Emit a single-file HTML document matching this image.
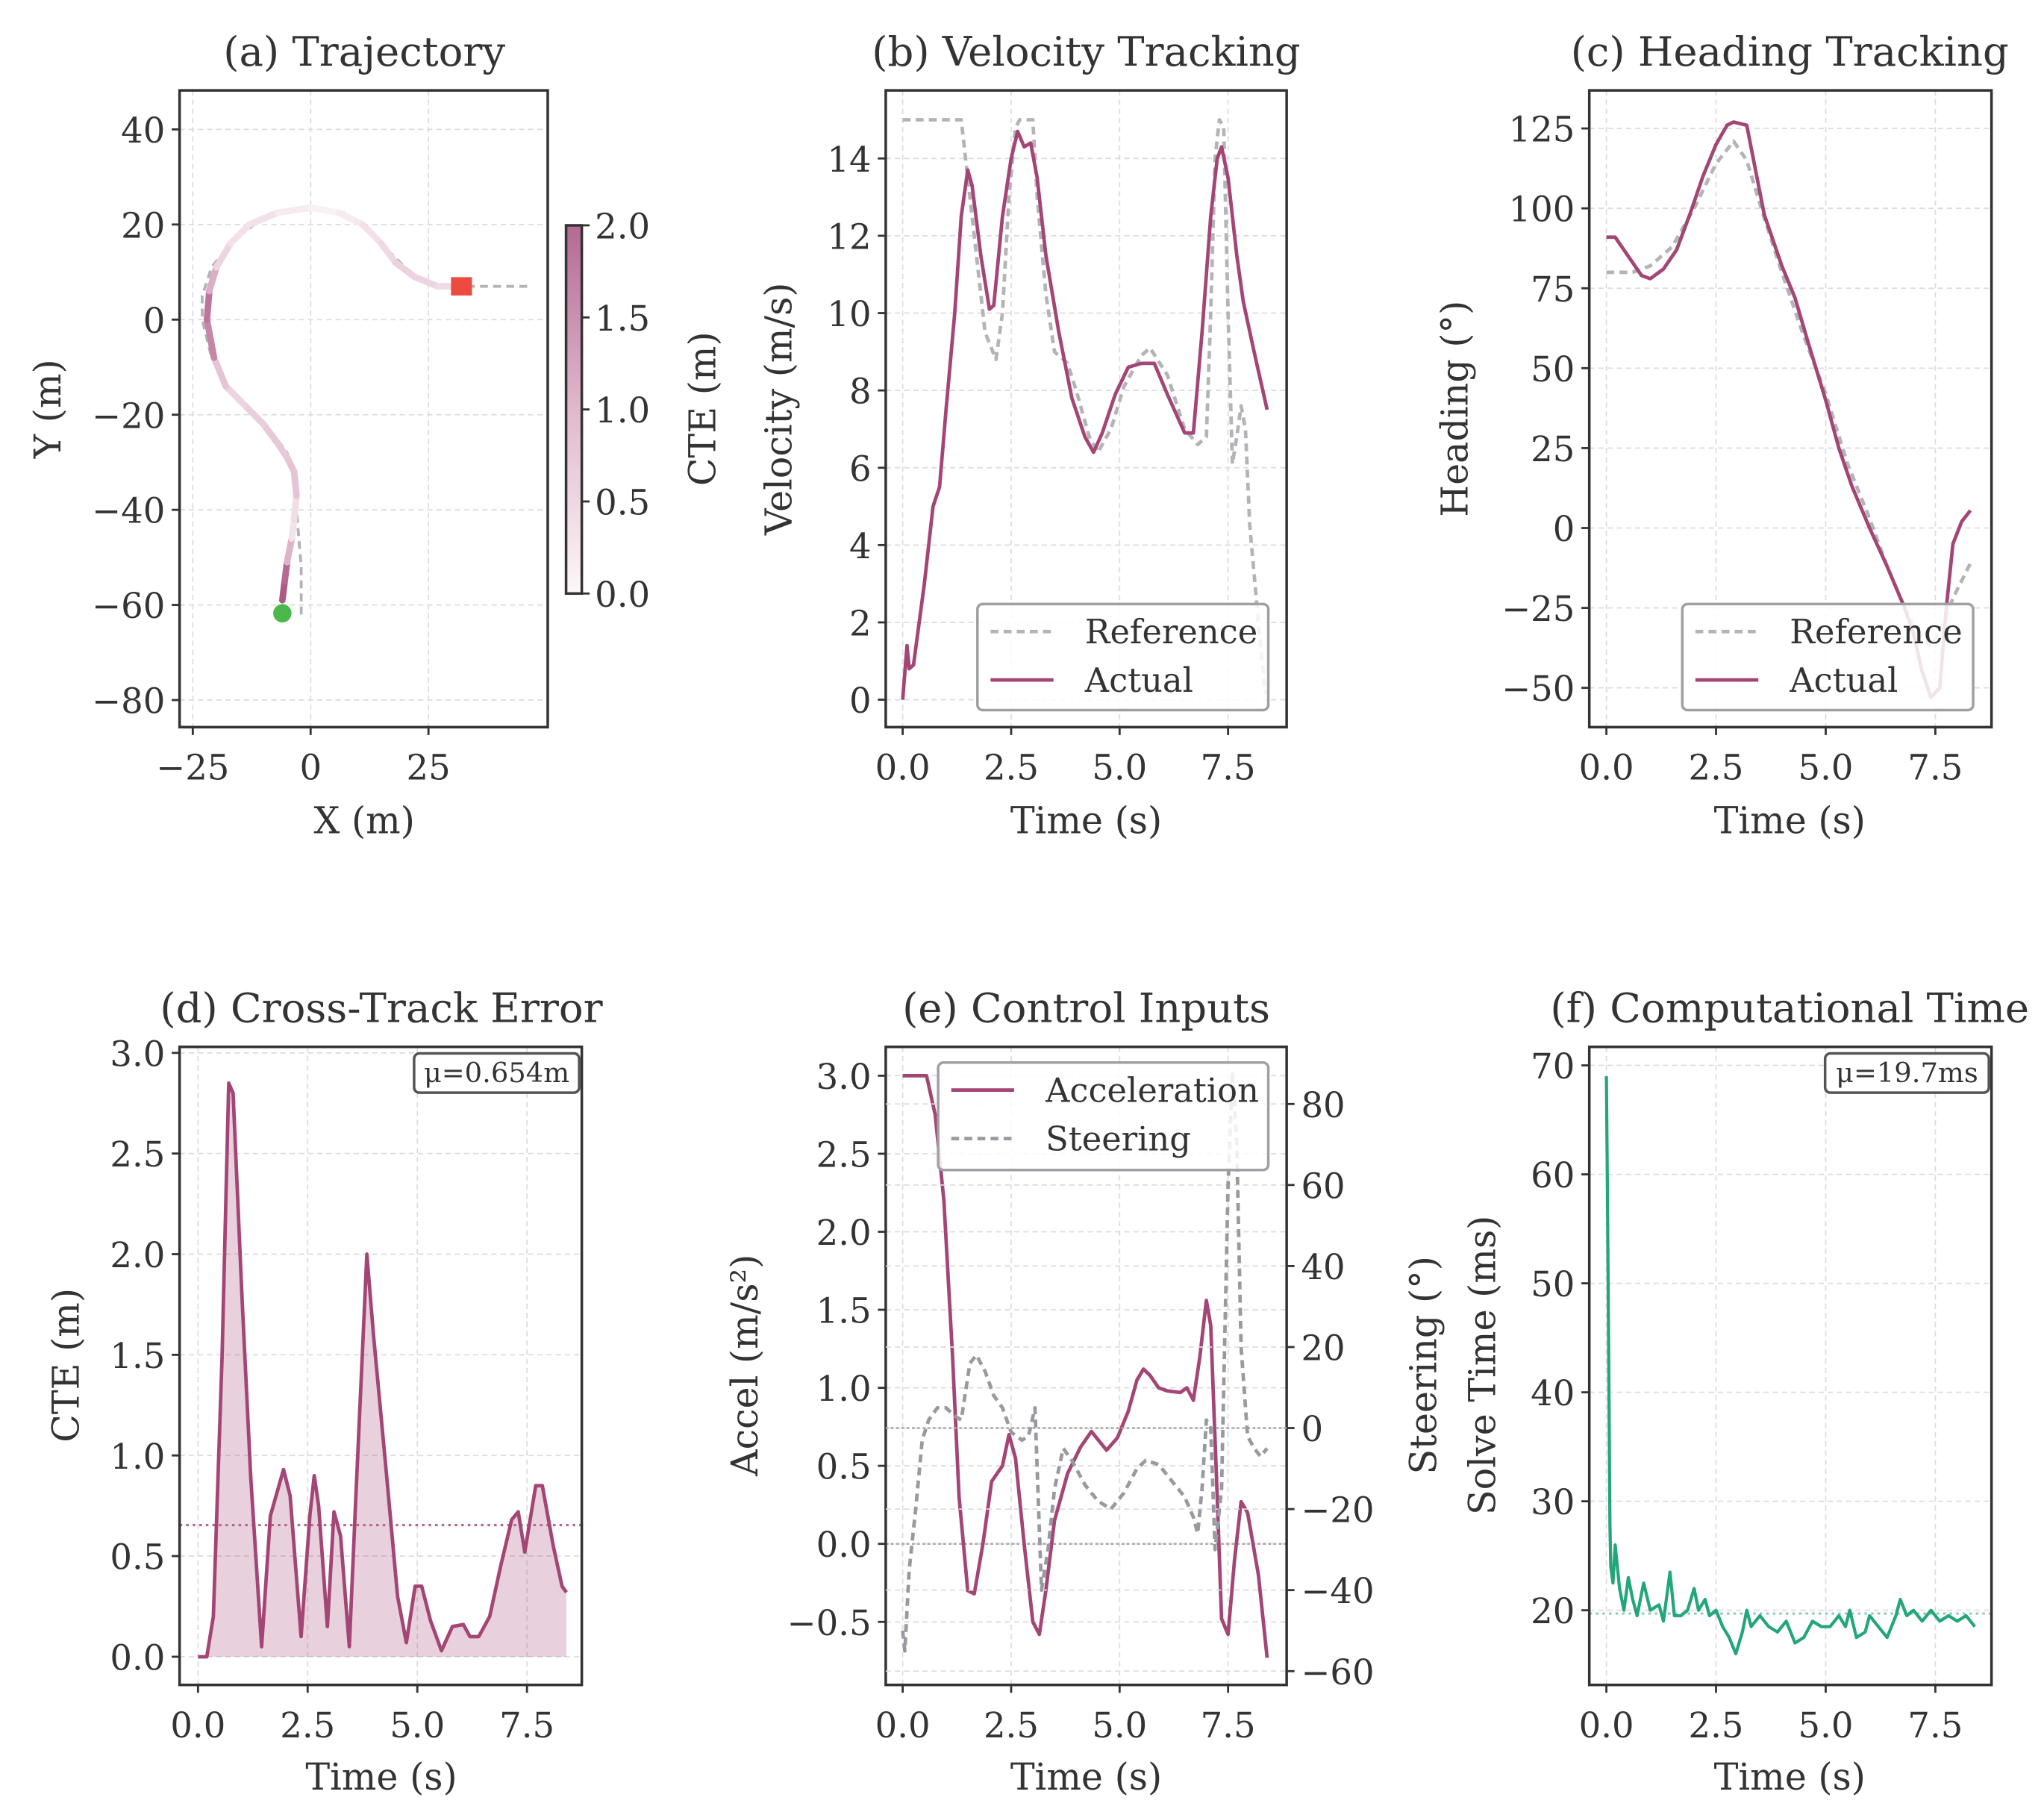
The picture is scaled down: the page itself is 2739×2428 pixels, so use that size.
<!DOCTYPE html>
<html><head><meta charset="utf-8"><style>
html,body{margin:0;padding:0;background:#fff}
svg{display:block}
text{font-family:"DejaVu Serif","Liberation Serif",serif;fill:#333}
</style></head><body>
<svg id="fig" width="2739" height="2428" viewBox="0 0 1560 1383" xmlns="http://www.w3.org/2000/svg">
<defs>
<linearGradient id="cbg" x1="0" y1="1" x2="0" y2="0">
<stop offset="0" stop-color="#fbf7f9"/><stop offset="0.5" stop-color="#e0b9cc"/><stop offset="1" stop-color="#b36a92"/>
</linearGradient>
</defs>
</svg>
<script>
// ---- data ----
const trajX=[-6,-5.5,-5,-4,-3.5,-3,-3.5,-5,-7,-10,-14,-18,-20.5,-22,-21.5,-20,-17,-13,-7,0,6,11,15,18,22,27,32];
const trajY=[-59,-55,-51,-46,-42,-37,-32,-29,-26,-22,-18,-14,-8,0,6,11,16,20,22.5,23.5,22.5,20,16,12,9,7,7];
const trajCTE=[1.9,1.8,1.6,0.5,0.1,0.7,0.9,0.7,0.8,0.7,0.6,0.5,1.1,1.8,1.4,0.8,0.3,0.4,0.3,0.1,0.1,0.3,0.4,0.6,0.6,0.5,0.4];
const refTX=[-2,-2,-2.5,-3,-3.5,-5,-8,-12,-17,-21,-23,-23,-21,-17,-12,-6,0,7,12,16,20,24,29,38,46];
const refTY=[-62,-52,-46,-40,-33,-28,-24,-20,-15,-8,0,5,11,16,20,22.5,23.5,22.5,19,15,11,8,7,7,7];

const velT=[0,0.1,0.15,0.25,0.5,0.7,0.85,1.0,1.2,1.35,1.5,1.6,1.8,2.0,2.1,2.3,2.5,2.65,2.8,2.95,3.1,3.3,3.6,3.9,4.2,4.4,4.6,4.9,5.2,5.5,5.8,6.1,6.5,6.7,6.9,7.1,7.25,7.35,7.5,7.7,7.85,8.1,8.4];
const velAct=[0,1.4,0.8,0.9,3,5,5.5,7.5,10,12.5,13.7,13.3,11.5,10.1,10.2,12.5,14,14.7,14.3,14.4,13.5,11.5,9.5,7.8,6.8,6.4,6.9,7.9,8.6,8.7,8.7,7.9,6.9,6.9,9.5,12.5,14,14.3,13.5,11.5,10.3,9,7.5];
const velRefT=[0,1.35,1.5,1.7,1.9,2.15,2.3,2.45,2.6,2.7,3.0,3.1,3.3,3.5,3.8,4.0,4.3,4.5,4.8,5.1,5.5,5.7,6.1,6.5,6.8,7.0,7.1,7.2,7.3,7.4,7.5,7.6,7.7,7.8,7.9,8.0,8.2,8.35,8.4];
const velRef=[15,15,13.5,11.5,9.5,8.8,10,13,14.8,15,15,13,10.5,9.0,8.7,8,6.8,6.4,7,8.1,8.9,9.1,8.4,7,6.6,6.8,10,14,15,14.8,10,6.1,6.8,7.6,7,4.5,2,0.2,0.2];

const hdgT=[0,0.2,0.5,0.8,1.0,1.3,1.6,1.9,2.2,2.5,2.75,2.9,3.2,3.4,3.6,4.0,4.3,4.6,5.0,5.3,5.6,6.0,6.4,6.8,7.0,7.2,7.4,7.6,7.75,7.9,8.1,8.3];
const hdgAct=[91,91,85,79,78,81,87,98,110,120,126,127,126,112,98,82,72,58,40,25,13,0,-12,-25,-33,-45,-53,-50,-25,-5,2,5.5];
const hdgRefT=[0,0.6,1.0,1.5,2.0,2.5,2.9,3.2,3.6,4.0,4.5,5.0,5.5,6.0,6.4,6.8,7.1,7.4,7.6,7.9,8.3];
const hdgRef=[80,80,82,88,100,114,121,115,97,80,60,42,20,3,-12,-25,-33,-37,-33,-22,-11];

const cteT=[0,0.2,0.35,0.55,0.7,0.8,1.0,1.2,1.45,1.65,1.95,2.1,2.35,2.55,2.65,2.75,2.95,3.1,3.25,3.45,3.6,3.85,4.0,4.3,4.55,4.75,4.95,5.1,5.3,5.55,5.8,6.05,6.2,6.4,6.65,6.9,7.15,7.3,7.45,7.7,7.85,8.1,8.3,8.4];
const cteVal=[0,0,0.2,1.5,2.85,2.8,1.8,0.9,0.05,0.7,0.93,0.8,0.1,0.7,0.9,0.75,0.15,0.72,0.6,0.05,0.8,2.0,1.6,0.9,0.3,0.07,0.35,0.35,0.18,0.03,0.15,0.16,0.1,0.1,0.2,0.45,0.68,0.72,0.52,0.85,0.85,0.55,0.35,0.32];
const cteMean=[0.654];

const accT=[0,0.55,0.75,0.95,1.15,1.3,1.5,1.65,1.85,2.05,2.3,2.45,2.6,2.8,3.0,3.15,3.3,3.5,3.8,4.1,4.35,4.7,4.95,5.2,5.4,5.55,5.7,5.9,6.1,6.4,6.55,6.7,6.85,7.0,7.1,7.25,7.35,7.5,7.65,7.8,7.95,8.2,8.4];
const accVal=[3,3,2.75,2.2,1.2,0.3,-0.3,-0.32,0,0.4,0.5,0.7,0.55,0,-0.5,-0.58,-0.3,0.15,0.45,0.62,0.72,0.6,0.68,0.85,1.05,1.12,1.08,1.0,0.98,0.97,1.0,0.92,1.2,1.56,1.4,0.3,-0.48,-0.58,-0.1,0.27,0.2,-0.2,-0.73];
const strT=[0,0.05,0.15,0.3,0.45,0.6,0.8,1.0,1.2,1.35,1.55,1.7,1.9,2.1,2.3,2.5,2.75,2.9,3.05,3.2,3.35,3.5,3.7,3.9,4.2,4.5,4.8,5.1,5.4,5.6,5.9,6.2,6.5,6.7,6.8,6.9,7.0,7.1,7.2,7.35,7.5,7.6,7.7,7.8,7.95,8.1,8.25,8.4];
const strVal=[-50,-55,-35,-20,-3,2,5,5,3,2,16,18,14,8,5,-1,-3,-2,5,-40,-30,-15,-5,-8,-14,-18,-20,-16,-10,-8,-9,-13,-17,-22,-26,-15,2,0,-30,-15,60,88,70,20,-2,-5,-7,-5];

const solT=[0,0.02,0.05,0.08,0.1,0.15,0.2,0.3,0.4,0.5,0.6,0.7,0.85,1.0,1.2,1.3,1.45,1.55,1.7,1.85,2.0,2.1,2.25,2.35,2.5,2.65,2.8,2.95,3.1,3.2,3.3,3.5,3.7,3.9,4.1,4.3,4.5,4.7,4.9,5.1,5.3,5.45,5.55,5.7,5.9,6.0,6.2,6.4,6.6,6.7,6.85,7.0,7.2,7.4,7.6,7.8,8.0,8.2,8.4];
const solVal=[69,60,45,28,24,22.5,26,22,20,23,21,19.5,22.5,20,20.5,19,23.5,19.5,19.5,20,22,20,21,19.5,20,18.5,17.5,16,18,20,18.5,19.5,18.5,18,19,17,17.5,19,18.5,18.5,19.5,18.5,20,17.5,18,19.5,18.5,17.5,19.5,21,19.5,20,19,20,19,19.5,19,19.5,18.5];
const solMean=[19.7];

const timeTicks=[0,2.5,5,7.5];
const timeTickLabels=["0.0","2.5","5.0","7.5"];

// ---- helpers ----
const NS="http://www.w3.org/2000/svg";
const fig=document.getElementById('fig');
const FT=26.5, FL=28, FTi=31, FLg=25.5, LW=2.7;
function el(tag,attrs,parent,txt){const e=document.createElementNS(NS,tag);for(const k in attrs)e.setAttribute(k,attrs[k]);if(txt!==undefined)e.textContent=txt;(parent||fig).appendChild(e);return e;}
const PURPLE="#a34675", GRAY="#b4b4b8";
function panel(name,L,T,R,B,xmin,xmax,ymin,ymax){
  const g=el('g',{});
  
  
  const sx=v=>L+(v-xmin)/(xmax-xmin)*(R-L);
  const sy=v=>B-(v-ymin)/(ymax-ymin)*(B-T);
  return {g,sx,sy,L,T,R,B};
}
function grid(p,xt,yt){
  xt.forEach(v=>{el('line',{x1:p.sx(v),x2:p.sx(v),y1:p.T,y2:p.B,stroke:'#dcdcdc','stroke-width':1,'stroke-dasharray':'4,3'},p.g);});
  yt.forEach(v=>{el('line',{x1:p.L,x2:p.R,y1:p.sy(v),y2:p.sy(v),stroke:'#dcdcdc','stroke-width':1,'stroke-dasharray':'4,3'},p.g);});
}
function frame(p){el('rect',{x:p.L,y:p.T,width:p.R-p.L,height:p.B-p.T,fill:'none',stroke:'#333','stroke-width':2},p.g);}
function xticks(p,vals,labels){
  vals.forEach((v,i)=>{el('line',{x1:p.sx(v),x2:p.sx(v),y1:p.B,y2:p.B+6,stroke:'#333','stroke-width':1.6},p.g);
   const t=el('text',{x:p.sx(v),y:p.B+40,'text-anchor':'middle','font-size':FT},p.g,labels[i]);
   });
}
function yticks(p,vals,labels,right){
  vals.forEach((v,i)=>{const x=right?p.R:p.L;
   el('line',{x1:x,x2:right?x+6:x-6,y1:p.sy(v),y2:p.sy(v),stroke:'#333','stroke-width':1.6},p.g);
   const t=el('text',{x:right?x+11:x-11,y:p.sy(v)+10,'text-anchor':right?'start':'end','font-size':FT},p.g,labels[i]);
   });
}
function line(p,xs,ys,attrs,name){
  const d=xs.map((x,i)=>(i?'L':'M')+p.sx(x).toFixed(2)+','+p.sy(ys[i]).toFixed(2)).join('');
  const e=el('path',Object.assign({d:d,fill:'none','stroke-linejoin':'round'},attrs),p.g);
  return e;
}
function label(txt,x,y,rot,size,name){
  const t=el('text',{x:x,y:y,'text-anchor':'middle','font-size':size,transform:rot?`rotate(-90 ${x} ${y})`:''},fig,txt);
  return t;
}
function legend(x,y,w,h,items,name){
  const g=el('g',{});
  
  el('rect',{x:x,y:y,width:w,height:h,rx:4,fill:'rgba(255,255,255,0.85)',stroke:'#a0a0a4','stroke-width':2},g);
  items.forEach((it,i)=>{const yy=y+21+i*37;
    el('line',{x1:x+10,x2:x+58,y1:yy,y2:yy,stroke:it.c,'stroke-width':LW,'stroke-dasharray':it.d||''},g);
    const t=el('text',{x:x+82,y:yy+9,'font-size':FLg},g,it.t);
    });
}
function infobox(x,y,w,h,txt,name){
  const g=el('g',{});
  
  el('rect',{x:x,y:y,width:w,height:h,rx:4,fill:'#fff',stroke:'#555','stroke-width':2},g);
  el('text',{x:x+w/2,y:y+h/2+7,'text-anchor':'middle','font-size':21},g,txt);
}

// ---- (a) trajectory ----
{const p=panel('trajectory-panel',137,69,418,555,-27.8,50.3,-85.7,48.2);
 grid(p,[-25,0,25],[40,20,0,-20,-40,-60,-80]);
 line(p,refTX,refTY,{stroke:GRAY,'stroke-width':2.2,'stroke-dasharray':'6,4'},'reference-path');
 const cmap=v=>{const t=Math.max(0,Math.min(1,v/2));const a=[251,247,249],b=[224,185,204],c=[166,72,120];
   const m=t<0.5?[a,b,t*2]:[b,c,(t-0.5)*2];return `rgb(${m[0].map((q,i)=>Math.round(q+(m[1][i]-q)*m[2])).join(',')})`;};
 for(let i=0;i<trajX.length-1;i++){
   const s=el('line',{x1:p.sx(trajX[i]),y1:p.sy(trajY[i]),x2:p.sx(trajX[i+1]),y2:p.sy(trajY[i+1]),stroke:cmap((trajCTE[i]+trajCTE[i+1])/2),'stroke-width':5,'stroke-linecap':'round'},p.g);
   
   
 }
 const st=el('circle',{cx:p.sx(trajX[0]),cy:p.sy(trajY[0])+10,r:7,fill:'#4cb84c'},p.g);
 
 const en=el('rect',{x:p.sx(trajX[trajX.length-1])-8,y:p.sy(trajY[trajY.length-1])-7,width:16,height:14,fill:'#ee4b40'},p.g);
 
 frame(p);
 xticks(p,[-25,0,25],["\u221225","0","25"]);
 yticks(p,[40,20,0,-20,-40,-60,-80],["40","20","0","\u221220","\u221240","\u221260","\u221280"]);
 const cb=el('g',{});
 el('rect',{x:432,y:172,width:12,height:281,fill:'url(#cbg)',stroke:'#333','stroke-width':2},cb);
 [0,0.5,1,1.5,2].forEach(v=>{const y=453-v/2*281;el('line',{x1:444,x2:450,y1:y,y2:y,stroke:'#333','stroke-width':1.6},cb);
   el('text',{x:454,y:y+10,'font-size':FT},cb,v.toFixed(1));});
 label('CTE (m)',546,312,true,FL,'colorbar-label');
 label('(a) Trajectory',278,50,false,FTi,'panel-a-title');
 label('X (m)',278,636,false,FL,'x-axis-title');
 label('Y (m)',46,312,true,FL,'y-axis-title');
}
// ---- (b) velocity ----
{const p=panel('velocity-panel',676,69,982,555,-0.39,8.85,-0.71,15.76);
 grid(p,timeTicks,[0,2,4,6,8,10,12,14]);
 line(p,velRefT,velRef,{stroke:GRAY,'stroke-width':LW,'stroke-dasharray':'6,4'},'velocity-reference-line');
 line(p,velT,velAct,{stroke:PURPLE,'stroke-width':LW},'velocity-actual-line');
 frame(p);
 xticks(p,timeTicks,timeTickLabels);
 yticks(p,[0,2,4,6,8,10,12,14],["0","2","4","6","8","10","12","14"]);
 legend(746,461,222,81,[{t:'Reference',c:GRAY,d:'6,4'},{t:'Actual',c:PURPLE}],'velocity-legend');
 label('(b) Velocity Tracking',829,50,false,FTi,'panel-b-title');
 label('Time (s)',829,636,false,FL,'x-axis-title');
 label('Velocity (m/s)',604,312,true,FL,'y-axis-title');
}
// ---- (c) heading ----
{const p=panel('heading-panel',1213,69,1520,555,-0.39,8.78,-62.3,136.9);
 grid(p,timeTicks,[125,100,75,50,25,0,-25,-50]);
 line(p,hdgRefT,hdgRef,{stroke:GRAY,'stroke-width':LW,'stroke-dasharray':'6,4'},'heading-reference-line');
 line(p,hdgT,hdgAct,{stroke:PURPLE,'stroke-width':LW},'heading-actual-line');
 legend(1284,461,222,81,[{t:'Reference',c:GRAY,d:'6,4'},{t:'Actual',c:PURPLE}],'heading-legend');
 frame(p);
 xticks(p,timeTicks,timeTickLabels);
 yticks(p,[125,100,75,50,25,0,-25,-50],["125","100","75","50","25","0","\u221225","\u221250"]);
 label('(c) Heading Tracking',1366,50,false,FTi,'panel-c-title');
 label('Time (s)',1366,636,false,FL,'x-axis-title');
 label('Heading (\u00b0)',1120,312,true,FL,'y-axis-title');
}
// ---- (d) CTE ----
{const p=panel('cte-panel',137,799,444,1286,-0.42,8.75,-0.14,3.03);
 grid(p,timeTicks,[0,0.5,1,1.5,2,2.5,3]);
 const d='M'+p.sx(cteT[0])+','+p.sy(0)+cteT.map((t,i)=>'L'+p.sx(t).toFixed(2)+','+p.sy(cteVal[i]).toFixed(2)).join('')+'L'+p.sx(cteT[cteT.length-1])+','+p.sy(0)+'Z';
 const a=el('path',{d:d,fill:'#a34675','fill-opacity':0.25},p.g);
 
 const m=el('line',{x1:p.L,x2:p.R,y1:p.sy(cteMean[0]),y2:p.sy(cteMean[0]),stroke:'#b5668f','stroke-width':1.8,'stroke-dasharray':'2,3'},p.g);
 
 line(p,cteT,cteVal,{stroke:PURPLE,'stroke-width':LW},'cte-line');
 frame(p);
 xticks(p,timeTicks,timeTickLabels);
 yticks(p,[0,0.5,1,1.5,2,2.5,3],["0.0","0.5","1.0","1.5","2.0","2.5","3.0"]);
 infobox(316,804,126,30,'\u03bc=0.654m','cte-mean-box');
 label('(d) Cross-Track Error',291,780,false,FTi,'panel-d-title');
 label('Time (s)',291,1366,false,FL,'x-axis-title');
 label('CTE (m)',60,1042,true,FL,'y-axis-title');
}
// ---- (e) control ----
{const p=panel('control-panel',676,799,982,1286,-0.39,8.85,-0.904,3.185);
 const q=panel('steering-axis',676,799,982,1286,-0.39,8.85,-63.4,94.1);
 grid(p,timeTicks,[-0.5,0,0.5,1,1.5,2,2.5,3]);
 grid(q,[],[-60,-40,-20,0,20,40,60,80]);
 el('line',{x1:p.L,x2:p.R,y1:p.sy(0),y2:p.sy(0),stroke:'#aaa','stroke-width':1.5,'stroke-dasharray':'2,2'},p.g);
 el('line',{x1:p.L,x2:p.R,y1:q.sy(0),y2:q.sy(0),stroke:'#aaa','stroke-width':1.5,'stroke-dasharray':'2,2'},q.g);
 line(p,accT,accVal,{stroke:PURPLE,'stroke-width':LW},'acceleration-line');
 line(q,strT,strVal,{stroke:'#999aa0','stroke-width':LW,'stroke-dasharray':'6,4'},'steering-line');
 frame(p);
 xticks(p,timeTicks,timeTickLabels);
 yticks(p,[-0.5,0,0.5,1,1.5,2,2.5,3],["\u22120.5","0.0","0.5","1.0","1.5","2.0","2.5","3.0"]);
 yticks(q,[-60,-40,-20,0,20,40,60,80],["\u221260","\u221240","\u221220","0","20","40","60","80"],true);
 legend(716,811,252,82,[{t:'Acceleration',c:PURPLE},{t:'Steering',c:'#999aa0',d:'6,4'}],'control-legend');
 label('(e) Control Inputs',829,780,false,FTi,'panel-e-title');
 label('Time (s)',829,1366,false,FL,'x-axis-title');
 label('Accel (m/s\u00b2)',578,1042,true,FL,'y-axis-title');
 label('Steering (\u00b0)',1096,1042,true,FL,'right-y-axis-title');
}
// ---- (f) solve time ----
{const p=panel('solve-time-panel',1213,799,1520,1286,-0.39,8.78,13.15,71.7);
 grid(p,timeTicks,[20,30,40,50,60,70]);
 const m=el('line',{x1:p.L,x2:p.R,y1:p.sy(solMean[0]),y2:p.sy(solMean[0]),stroke:'#8fcdb5','stroke-width':1.8,'stroke-dasharray':'2,3'},p.g);
 
 line(p,solT,solVal,{stroke:'#22a67a','stroke-width':2.4},'solve-time-line');
 frame(p);
 xticks(p,timeTicks,timeTickLabels);
 yticks(p,[20,30,40,50,60,70],["20","30","40","50","60","70"]);
 infobox(1393,804,125,30,'\u03bc=19.7ms','solve-mean-box');
 label('(f) Computational Time',1366,780,false,FTi,'panel-f-title');
 label('Time (s)',1366,1366,false,FL,'x-axis-title');
 label('Solve Time (ms)',1141,1042,true,FL,'y-axis-title');
}
</script>
</body></html>
